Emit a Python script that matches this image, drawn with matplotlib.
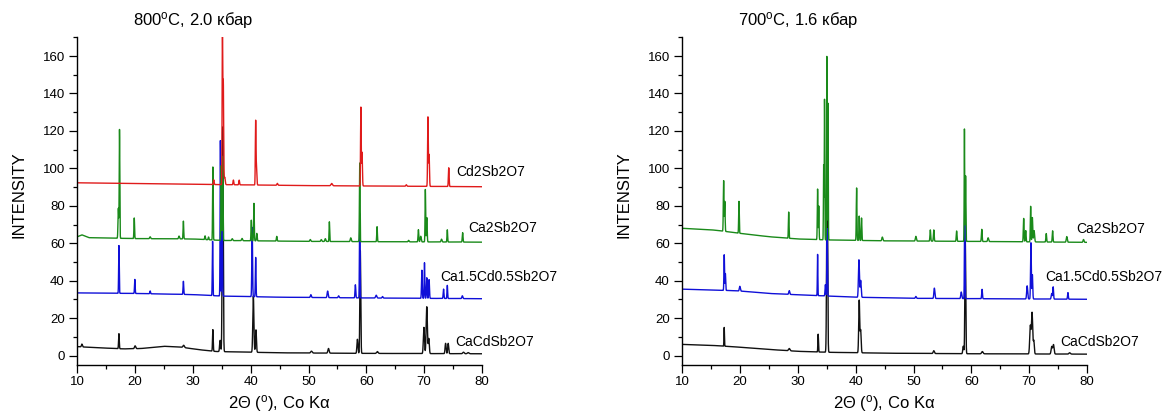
import numpy as np
import matplotlib
matplotlib.use("Agg")
import matplotlib.pyplot as plt
import matplotlib.transforms as mtransforms
from matplotlib.ticker import MultipleLocator

plt.rcParams['font.family'] = ['Liberation Sans', 'DejaVu Sans']
plt.rcParams['mathtext.fontset'] = 'custom'
plt.rcParams['mathtext.rm'] = 'Liberation Sans'
plt.rcParams['mathtext.it'] = 'Liberation Sans:italic'

# 2theta grid for the Co K-alpha scans
tt = np.arange(10.0, 80.0001, 0.01)

# ---- 800 C, 2.0 kbar ----
# baseline knots (2theta, intensity) and peak tables (2theta, height above baseline, fwhm)
cd2_bg_x = [10, 30, 50, 80]
cd2_bg_y = [92.3, 91.5, 90.8, 90.2]
cd2_peaks = [(33.6, 2.5, 0.15), (35.1, 85, 0.12), (35.25, 55, 0.15), (35.5, 4, 0.2),
             (37.0, 2.5, 0.15), (38.0, 2.5, 0.15), (40.85, 34, 0.13), (41.0, 10, 0.15),
             (44.6, 1, 0.2), (54.0, 1.2, 0.3), (59.05, 42, 0.13), (59.25, 18, 0.15),
             (66.9, 0.8, 0.2), (70.65, 37, 0.14), (70.85, 17, 0.15), (74.25, 10, 0.15)]

ca2_bg_x = [10, 10.8, 12, 20, 30, 35, 50, 80]
ca2_bg_y = [63.5, 64.5, 63, 62.5, 62.3, 61.5, 61, 60.6]
ca2_peaks = [(17.1, 16, 0.15), (17.3, 58, 0.12), (19.85, 11, 0.13), (22.6, 1, 0.2),
             (27.6, 1.5, 0.2), (28.35, 9.5, 0.13), (32.1, 2, 0.15), (32.7, 1.5, 0.15),
             (33.45, 39, 0.12), (34.9, 40, 0.13), (35.15, 45, 0.12), (36.8, 1, 0.2),
             (38.5, 1.2, 0.2), (40.1, 11, 0.13), (40.55, 20, 0.13), (41.05, 4, 0.15),
             (44.5, 2.5, 0.15), (50.3, 1, 0.2), (52.2, 1, 0.2), (52.9, 1.5, 0.2),
             (53.6, 10.5, 0.12), (57.3, 2, 0.2), (58.85, 42, 0.12), (61.85, 8, 0.13),
             (67.3, 0.8, 0.2), (69.0, 6.5, 0.15), (69.4, 3, 0.2), (70.2, 28, 0.12),
             (70.45, 13, 0.15), (73.0, 1.5, 0.2), (74.0, 6.5, 0.13), (76.65, 5, 0.15)]

ca15_bg_x = [10, 20, 30, 35, 45, 60, 80]
ca15_bg_y = [33.5, 33.2, 32.6, 31.8, 31.2, 30.8, 30.4]
ca15_peaks = [(17.2, 25.5, 0.12), (19.95, 7.5, 0.13), (22.6, 1.5, 0.15), (28.35, 7, 0.14),
              (33.4, 29, 0.12), (34.75, 83, 0.12), (35.05, 60, 0.13), (40.25, 37, 0.15),
              (40.85, 21, 0.13), (50.4, 1.5, 0.2), (53.3, 3.5, 0.2), (55.2, 1, 0.2),
              (58.1, 7, 0.15), (58.85, 45, 0.12), (61.7, 1.5, 0.25), (62.8, 0.8, 0.2),
              (69.6, 15, 0.15), (70.05, 19, 0.13), (70.45, 11, 0.15), (70.85, 10, 0.15),
              (73.35, 5, 0.15), (74.0, 7, 0.13), (76.6, 1.5, 0.2)]

cacd_bg_x = [10, 13, 18, 21, 25, 28, 31, 34, 45, 60, 80]
cacd_bg_y = [4.8, 4.3, 3.6, 3.8, 5.0, 4.5, 3.2, 2.2, 1.5, 1.2, 1.0]
cacd_peaks = [(10.8, 1.5, 0.2), (17.2, 8, 0.14), (20.0, 1.5, 0.25), (28.4, 1.2, 0.3),
              (33.45, 11.5, 0.14), (34.7, 6, 0.2), (35.15, 120, 0.2), (40.45, 30, 0.22),
              (40.9, 12, 0.2), (50.5, 1, 0.3), (53.45, 2.5, 0.25), (58.45, 7.5, 0.2),
              (58.95, 55, 0.18), (61.9, 1, 0.3), (69.95, 14, 0.22), (70.45, 25, 0.25),
              (70.8, 8, 0.2), (73.7, 5.5, 0.2), (74.15, 5.5, 0.2), (76.8, 0.8, 0.3),
              (77.6, 0.6, 0.3)]

# ---- 700 C, 1.6 kbar ----
ca2_b_bg_x = [10, 15, 17, 20, 25, 30, 35, 45, 60, 80]
ca2_b_bg_y = [68, 67.2, 66.5, 65.3, 63.5, 62.3, 61.8, 61.3, 61, 60.5]
ca2_b_peaks = [(17.15, 27, 0.13), (17.35, 16, 0.13), (19.8, 17, 0.12), (28.4, 14, 0.12),
               (33.4, 27, 0.12), (33.6, 18, 0.12), (34.45, 40, 0.1), (34.6, 75, 0.1),
               (35.0, 98, 0.1), (35.2, 73, 0.1), (40.15, 28, 0.13), (40.6, 13, 0.12),
               (41.0, 12, 0.12), (44.6, 2, 0.2), (50.4, 2.5, 0.2), (52.9, 6, 0.15),
               (53.5, 6, 0.15), (57.45, 5.5, 0.15), (58.8, 60, 0.1), (59.0, 35, 0.12),
               (61.8, 6.5, 0.15), (62.9, 2, 0.2), (69.05, 12.5, 0.15), (69.4, 6, 0.15),
               (70.25, 19, 0.13), (70.55, 13, 0.15), (70.85, 6, 0.2), (72.95, 4.5, 0.15),
               (74.05, 6, 0.15), (76.5, 3, 0.2), (79.4, 1.5, 0.2)]

ca15_b_bg_x = [10, 15, 18, 20, 25, 30, 40, 50, 80]
ca15_b_bg_y = [35.5, 35, 34.8, 34.5, 33.2, 32.5, 31.2, 30.6, 30.1]
ca15_b_peaks = [(17.25, 19, 0.12), (17.45, 9, 0.12), (19.95, 2.5, 0.2), (28.5, 2, 0.2),
                (33.4, 22, 0.1), (34.75, 6, 0.15), (35.05, 36, 0.12), (40.55, 20, 0.2),
                (40.85, 9, 0.2), (50.4, 1, 0.2), (53.6, 5.5, 0.2), (58.25, 3.5, 0.2),
                (58.85, 50, 0.12), (61.85, 5, 0.15), (69.65, 7, 0.2), (70.3, 30, 0.15),
                (70.55, 13, 0.15), (73.9, 3, 0.2), (74.15, 6.5, 0.15), (76.7, 3.5, 0.15)]

cacd_b_bg_x = [10, 15, 20, 25, 30, 35, 45, 60, 80]
cacd_b_bg_y = [6, 5.5, 4.5, 3.3, 2.3, 1.8, 1.3, 1.0, 0.8]
cacd_b_peaks = [(17.25, 10, 0.1), (28.5, 1.2, 0.3), (33.5, 9.5, 0.12), (35.05, 100, 0.2),
                (40.6, 28, 0.2), (40.85, 12, 0.2), (53.5, 1.5, 0.25), (58.6, 4, 0.2),
                (58.95, 60, 0.18), (61.9, 1.2, 0.3), (70.2, 15, 0.25), (70.5, 22, 0.25),
                (70.8, 7, 0.2), (73.9, 4, 0.25), (74.2, 5, 0.25), (77.0, 0.7, 0.3)]

BLACK, BLUE, GREEN, RED = '#111111', '#1010d8', '#1a8a1a', '#e01b1b'


def pattern(bg_x, bg_y, peaks):
    y = np.interp(tt, bg_x, bg_y)
    for pos, amp, w in peaks:
        y = y + amp * np.exp(-4 * np.log(2) * ((tt - pos) / w) ** 2)
    return y


panels = [
    ("800$^{\\rm o}$C, 2.0 кбар",
     [(cacd_bg_x, cacd_bg_y, cacd_peaks, BLACK, "CaCdSb2O7", 75.3, 7.5),
      (ca15_bg_x, ca15_bg_y, ca15_peaks, BLUE, "Ca1.5Cd0.5Sb2O7", 72.8, 41.9),
      (ca2_bg_x, ca2_bg_y, ca2_peaks, GREEN, "Ca2Sb2O7", 77.6, 68.0),
      (cd2_bg_x, cd2_bg_y, cd2_peaks, RED, "Cd2Sb2O7", 75.5, 97.9)]),
    ("700$^{\\rm o}$C, 1.6 кбар",
     [(cacd_b_bg_x, cacd_b_bg_y, cacd_b_peaks, BLACK, "CaCdSb2O7", 75.35, 7.5),
      (ca15_b_bg_x, ca15_b_bg_y, ca15_b_peaks, BLUE, "Ca1.5Cd0.5Sb2O7", 72.8, 41.9),
      (ca2_b_bg_x, ca2_b_bg_y, ca2_b_peaks, GREEN, "Ca2Sb2O7", 78.2, 67.6)]),
]

fig = plt.figure(figsize=(11.64, 4.18), dpi=100)
lefts = [77.3 / 1164, 682.3 / 1164]
W, B, H = 404.7 / 1164, 53 / 418, 327.7 / 418

for left, (title, curves) in zip(lefts, panels):
    ax = fig.add_axes([left, B, W, H])
    for bx, by, pk, col, name, lx, ly in curves:
        ax.plot(tt, pattern(bx, by, pk), color=col, lw=1.0)
        ax.text(lx, ly, name, fontsize=10, va='center', ha='left')

    ax.set_xlim(10, 80)
    ax.set_ylim(-5, 170)
    ax.xaxis.set_major_locator(MultipleLocator(10))
    ax.xaxis.set_minor_locator(MultipleLocator(5))
    ax.yaxis.set_major_locator(MultipleLocator(20))
    ax.yaxis.set_minor_locator(MultipleLocator(10))
    ax.tick_params(which='major', direction='out', length=6, width=0.9, labelsize=9.5, pad=2)
    ax.tick_params(which='minor', direction='out', length=3, width=0.9)
    ax.tick_params(axis='y', which='major', pad=3)
    for s in ('top', 'right'):
        ax.spines[s].set_visible(False)
    for s in ('left', 'bottom'):
        ax.spines[s].set_linewidth(1.0)

    trans = mtransforms.blended_transform_factory(ax.transData, ax.transAxes)
    ax.text(30, 1.0 + 17 / 327.7, title, transform=trans, ha='center', va='center', fontsize=12)
    ax.text(0.5, -39 / 327.7, "2Θ ($^{\\rm o}$), Co Kα", transform=ax.transAxes,
            ha='center', va='center', fontsize=12)
    ax.text(-58 / 404.7, 0.52, "INTENSITY", transform=ax.transAxes, rotation=90,
            ha='center', va='center', fontsize=12)

fig.savefig("out.png", dpi=100)
